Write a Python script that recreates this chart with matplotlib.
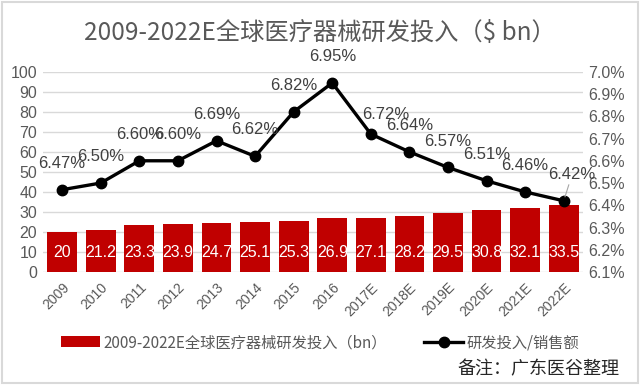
import matplotlib
matplotlib.use('Agg')
import matplotlib.pyplot as plt
from matplotlib.lines import Line2D
from matplotlib.patches import Patch, Rectangle
import numpy as np

plt.rcParams['font.family'] = ['Liberation Sans', 'Noto Sans CJK SC']
plt.rcParams['axes.unicode_minus'] = False

years = ['2009', '2010', '2011', '2012', '2013', '2014', '2015', '2016',
         '2017E', '2018E', '2019E', '2020E', '2021E', '2022E']
rd_spend = [20, 21.2, 23.3, 23.9, 24.7, 25.1, 25.3, 26.9, 27.1, 28.2, 29.5, 30.8, 32.1, 33.5]
rd_ratio = [6.47, 6.50, 6.60, 6.60, 6.69, 6.62, 6.82, 6.95, 6.72, 6.64, 6.57, 6.51, 6.46, 6.42]

gray_txt = '#595959'
bar_red = '#C00000'
cjk = ['Noto Sans CJK SC', 'DejaVu Sans']

fig = plt.figure(figsize=(6.4, 3.85), dpi=100)
ax = fig.add_axes([0.067, 0.2935, 0.844, 0.52])
ax2 = ax.twinx()

x = np.arange(len(years))
ax.bar(x, rd_spend, width=0.77, color=bar_red, zorder=2)
ax.set_xlim(-0.5, len(years) - 0.5)
ax.set_ylim(0, 100)
ax.set_yticks(range(0, 101, 10))
ax.grid(axis='y', color='#d9d9d9', linewidth=1, zorder=0)
ax.set_axisbelow(True)
for s in list(ax.spines.values()) + list(ax2.spines.values()):
    s.set_visible(False)
ax.tick_params(axis='y', length=0, labelsize=11.5, labelcolor=gray_txt, pad=4)
ax.tick_params(axis='x', length=0, labelsize=10, labelcolor=gray_txt, pad=6)
ax.set_xticks(x)
ax.set_xticklabels(years, rotation=45, ha='right', rotation_mode='anchor')

# 柱子数值标签（内侧底部）
for i, v in enumerate(rd_spend):
    ax.annotate(f'{v:g}', xy=(i, 0), xytext=(0, 14), textcoords='offset points',
                ha='center', va='center', color='white', fontsize=11.5, zorder=3)

# 研发投入/销售额 折线（右轴）
ax2.plot(x, rd_ratio, color='black', linewidth=2.4, marker='o', markersize=7.5, zorder=4)
ax2.set_ylim(6.1, 7.0)
ticks = np.arange(6.1, 7.01, 0.1)
ax2.set_yticks(ticks)
ax2.set_yticklabels([f'{t:.1f}%' for t in ticks])
ax2.tick_params(axis='y', length=0, labelsize=11.5, labelcolor=gray_txt, pad=4)

offsets = {8: (11, 14), 13: (6, 19)}
for i, v in enumerate(rd_ratio):
    dx, dy = offsets.get(i, (0, 19))
    kw = {}
    if i == 13:
        kw['arrowprops'] = dict(arrowstyle='-', color='#a6a6a6', lw=0.8, shrinkA=0, shrinkB=3)
    ax2.annotate(f'{v:.2f}%', xy=(i, v), xytext=(dx, dy), textcoords='offset points',
                 ha='center', va='center', color='#404040', fontsize=12, zorder=5, **kw)

fig.text(0.5, 0.915, '2009-2022E全球医疗器械研发投入（$ bn）', ha='center', va='center',
         fontsize=17.5, color=gray_txt, family=cjk)

handles = [Patch(facecolor=bar_red, edgecolor='none'),
           Line2D([0], [0], color='black', linewidth=2.4, marker='o', markersize=7.5)]
labels = ['2009-2022E全球医疗器械研发投入（bn）', '研发投入/销售额']
fig.legend(handles, labels, loc='center', bbox_to_anchor=(0.5, 0.11), ncol=2, frameon=False,
           prop={'family': cjk, 'size': 11}, labelcolor=gray_txt,
           handlelength=2.6, handletextpad=0.2, columnspacing=2.4)

fig.text(0.968, 0.04, '备注：广东医谷整理', ha='right', va='center', fontsize=13,
         color='#262626', family=cjk)

fig.patches.append(Rectangle((0.003, 0.004), 0.994, 0.992, transform=fig.transFigure,
                             fill=False, edgecolor='#d9d9d9', linewidth=1.5))

fig.savefig('out.png', dpi=100)
